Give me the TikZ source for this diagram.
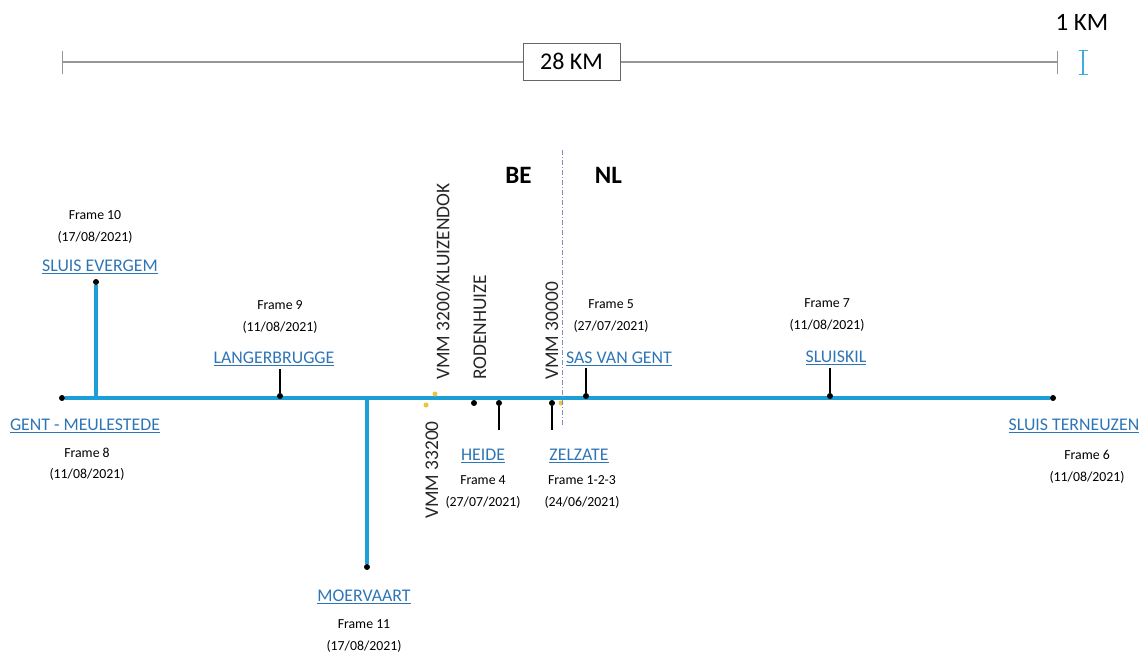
\documentclass[tikz,border=0pt]{standalone}
\usepackage{fontspec}
\setmainfont{Carlito}
\usepackage{tikz}
\usetikzlibrary{arrows,arrows.meta,calc,backgrounds}
\definecolor{canal}{RGB}{28,158,214}
\definecolor{placeblue}{RGB}{46,117,182}
\definecolor{vmmyellow}{RGB}{240,195,60}
\definecolor{borderline}{RGB}{130,140,190}
\definecolor{scalegray}{RGB}{150,150,150}

\tikzset{
  dot/.style={circle, fill=black, inner sep=0pt, minimum size=6},
  vmmdot/.style={circle, fill=vmmyellow, inner sep=0pt, minimum size=5},
  placelabel/.style={text=placeblue, font=\fontsize{17.8}{20}\selectfont, inner sep=0pt},
  framelabel/.style={align=center, font=\fontsize{13.8}{21.5}\selectfont, inner sep=0pt},
  station/.style={rotate=90, font=\fontsize{19.4}{21}\selectfont, inner sep=0pt, text=black!85},
  country/.style={font=\bfseries\fontsize{25}{26}\selectfont, inner sep=0pt},
  canalline/.style={canal, line width=3.2},
  tick/.style={black, line width=1.2},
}

\begin{document}
\begin{tikzpicture}[x=1pt, y=1pt]
  \useasboundingbox (0,0) rectangle (1144,-653);
%
  % scale bar
  \coordinate (barL) at (62,-62);
  \coordinate (barR) at (1058,-62);
  \draw[scalegray, line width=1.2, {Bar[width=23]}-{Bar[width=23]}] (barL) -- (barR);
  \node[draw=black!60, line width=1, fill=white, minimum width=97, minimum height=37, %
        font=\fontsize{24}{26}\selectfont] (km28) at (571.5,-61.5) {28 KM};
  \node[font=\fontsize{25}{26}\selectfont, inner sep=0pt] (km1) at (1082,-22) {1 KM};
  \coordinate (kmtop) at (1083,-50);
  \coordinate (kmbot) at (1083,-75);
  \draw[canal!85, line width=1.4, {Bar[width=9]}-{Bar[width=9]}] (kmtop) -- (kmbot);
%
  % stops on the canal
  \node[dot] (gent) at (62,-398) {};
  \node[dot] (evergem) at (96,-282) {};
  \node[dot] (langer) at (280,-396) {};
  \node[dot] (moervaart) at (367,-567) {};
  \node[dot] (rodenhuize) at (474,-403) {};
  \node[dot] (heide) at (499,-403) {};
  \node[dot] (zelzate) at (552,-403) {};
  \node[dot] (sasvangent) at (586,-396) {};
  \node[dot] (sluiskil) at (830,-396) {};
  \node[dot] (terneuzen) at (1053,-398) {};
  \node[vmmdot] (vmmA) at (426,-405) {};
  \node[vmmdot] (vmmB) at (435,-394) {};
  \node[vmmdot] (vmmC) at (561,-403) {};
%
  \node[placelabel, above of=evergem, node distance=15, xshift=4] %
       (evergemlbl) {\underline{SLUIS EVERGEM}};
  \node[framelabel, above of=evergemlbl, node distance=40, xshift=-5] %
       (frame10) {Frame 10\\(17/08/2021)};
  \node[placelabel, above of=langer, node distance=37, xshift=-6] %
       (langerlbl) {\underline{LANGERBRUGGE}};
  \node[framelabel, above of=langerlbl, node distance=42, xshift=6] %
       (frame9) {Frame 9\\(11/08/2021)};
  \node[placelabel, below of=gent, node distance=28, xshift=23] %
       (gentlbl) {\underline{GENT - MEULESTEDE}};
  \node[framelabel, below of=gentlbl, node distance=38, xshift=2] %
       (frame8) {Frame 8\\(11/08/2021)};
  \node[placelabel, below of=moervaart, node distance=30, xshift=-3] %
       (moervaartlbl) {\underline{MOERVAART}};
  \node[framelabel, below of=moervaartlbl, node distance=39] %
       (frame11) {Frame 11\\(17/08/2021)};
  \node[placelabel, below of=heide, node distance=53, xshift=-16] %
       (heidelbl) {\underline{HEIDE}};
  \node[framelabel, below of=heidelbl, node distance=36] %
       (frame4) {Frame 4\\(27/07/2021)};
  \node[placelabel, below of=zelzate, node distance=53, xshift=27] %
       (zelzatelbl) {\underline{ZELZATE}};
  \node[framelabel, below of=zelzatelbl, node distance=36, xshift=3] %
       (frame123) {Frame 1-2-3\\(24/06/2021)};
  \node[placelabel, above of=sasvangent, node distance=37, xshift=33] %
       (saslbl) {\underline{SAS VAN GENT}};
  \node[framelabel, above of=saslbl, node distance=43, xshift=-8] %
       (frame5) {Frame 5\\(27/07/2021)};
  \node[placelabel, above of=sluiskil, node distance=38, xshift=6] %
       (sluiskillbl) {\underline{SLUISKIL}};
  \node[framelabel, above of=sluiskillbl, node distance=43, xshift=-9] %
       (frame7) {Frame 7\\(11/08/2021)};
  \node[placelabel, below of=terneuzen, node distance=28, xshift=21] %
       (terneuzenlbl) {\underline{SLUIS TERNEUZEN}};
  \node[framelabel, below of=terneuzenlbl, node distance=41, xshift=13] %
       (frame6) {Frame 6\\(11/08/2021)};
%
  % measuring stations
  \node[station, anchor=west] (kluizendok) at (443,-380) {VMM 3200/KLUIZENDOK};
  \node[station, anchor=west] (rodenhuizelbl) at (480,-380) {RODENHUIZE};
  \node[station, anchor=west] (vmm30000) at (552,-380) {VMM 30000};
  \node[station, anchor=east] (vmm33200) at (432,-421) {VMM 33200};
%
  % border
  \coordinate (bordertop) at (562,-150);
  \coordinate (borderbot) at (562,-427);
  \draw[borderline, line width=0.8, dash pattern=on 5pt off 2pt on 1pt off 2pt] %
    (bordertop) -- (borderbot);
  \node[country] (BE) at (518.5,-175) {BE};
  \node[country] (NL) at (608.5,-175) {NL};
%
  \coordinate (evergemjn) at (96,-397);
  \coordinate (moervaartjn) at (367,-397);
  \coordinate (langertop) at (280,-369);
  \coordinate (heidebot) at (499,-430);
  \coordinate (zelzatebot) at (552,-430);
  \coordinate (sastop) at (586,-368);
  \coordinate (sluiskiltop) at (830,-368);
  \begin{pgfonlayer}{background}
    \draw[canalline] (gent) -- (terneuzen);
    \draw[canalline] (evergemjn) -- (evergem);
    \draw[canalline] (moervaartjn) -- (moervaart);
  \end{pgfonlayer}
  \draw[tick] (langertop) -- (langer);
  \draw[tick] (heidebot) -- (heide);
  \draw[tick] (zelzatebot) -- (zelzate);
  \draw[tick] (sastop) -- (sasvangent);
  \draw[tick] (sluiskiltop) -- (sluiskil);
\end{tikzpicture}
\end{document}
